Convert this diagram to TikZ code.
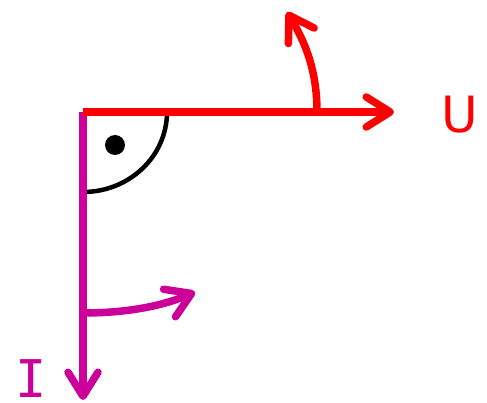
\documentclass[tikz,border=0pt]{standalone}
\usepackage{fontspec}
\usetikzlibrary{arrows.meta,positioning}
\newfontfamily\labelfont{DejaVu Sans}
\newfontfamily\labelmono{DejaVu Sans Mono}
\definecolor{curmag}{RGB}{204,0,153}

\begin{document}
\begin{tikzpicture}[x=1pt, y=-1pt,
    vec/.style={line width=7.5pt, -{Straight Barb[length=24pt, width=30pt, round]}},
    lbl/.style={inner sep=0pt, font=\fontsize{50}{50}\selectfont}]
  \useasboundingbox (0,0) rectangle (487,403);
  \coordinate (O) at (83,112);
  \coordinate (Utip) at (394,112);
  \coordinate (Itip) at (83,400);
  \coordinate (Ubase) at (317,112);
  \coordinate (Urot) at (287,12);
  \coordinate (Ibase) at (83,313);
  \coordinate (Irot) at (195,292);
  \node (U) [lbl, text=red, font=\labelfont\fontsize{50}{50}\selectfont] at (460,115) {U};
  \node (I) [lbl, text=curmag, font=\labelmono\fontsize{52}{52}\selectfont] at (31,379) {I};
  % right angle mark
  \draw[line width=4.5pt] (167,112) arc[start angle=0, end angle=90, x radius=84, y radius=80];
  \fill (115,145) circle[radius=10];
  % current and voltage
  \draw[vec, curmag] (O) -- (Itip);
  \draw[vec, curmag] (Ibase) .. controls (130,313) and (165,305) .. (Irot);
  \draw[vec, red] (O) -- (Utip);
  \draw[vec, red] (Ubase) .. controls (317,70) and (305,42) .. (Urot);
\end{tikzpicture}
\end{document}
